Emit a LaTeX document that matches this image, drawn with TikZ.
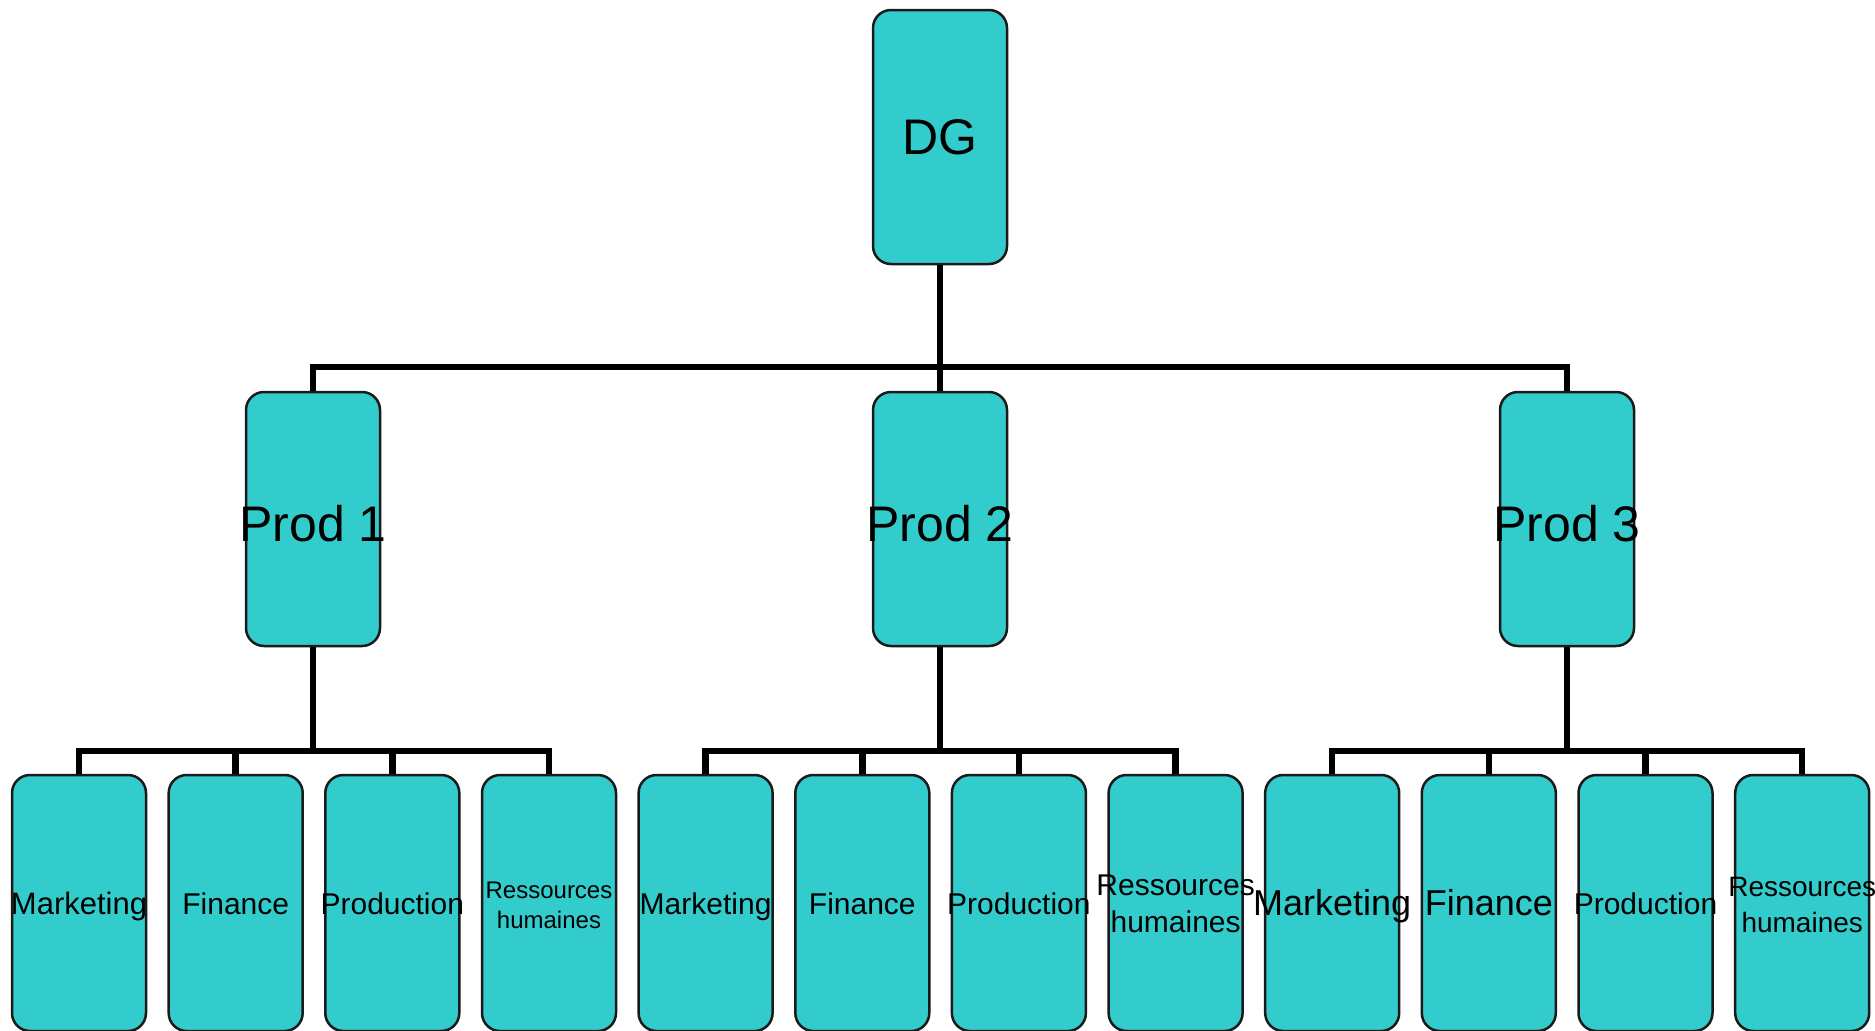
\documentclass[tikz,border=0pt]{standalone}
\usepackage{fontspec}
\setmainfont{Liberation Sans}
\definecolor{boxfill}{HTML}{33CCCC}
\definecolor{boxline}{HTML}{1A1A1A}
\tikzset{
  orgbox/.style={draw=boxline, fill=boxfill, line width=2.5pt, rounded corners=18pt,
    minimum width=134pt, minimum height=254pt, inner sep=0pt, text=black},
  leafbox/.style={orgbox, minimum height=256pt},
  link/.style={draw=black, line width=6.5pt}
}
% font size helper and zero-width labels, so long words may spill over the box edge;
% the optional shift lowers the ink while the box keeps its size
\newcommand{\fs}[2]{\fontsize{#1pt}{#2pt}\selectfont}
\newcommand{\lbl}[2][0pt]{\raisebox{-#1}[\height][\depth]{\makebox[0pt][c]{#2}}}
\newcommand{\leaflbl}[1]{\lbl[4pt]{\strut#1}}
\newcommand{\twolbl}[2]{\raisebox{-4pt}[\height][\depth]{\makebox[0pt][c]{\begin{tabular}{@{}c@{}}#1\\#2\end{tabular}}}}
\begin{document}
\begin{tikzpicture}[x=1pt, y=-1pt]
\useasboundingbox (0,0) rectangle (1875,1031);
\fill[white] (0,0) rectangle (1875,1031);

% top level
\node[orgbox, font=\fs{50}{60}] (dg) at (940,137) {\lbl{DG}};

% product divisions
\node[orgbox, font=\fs{50}{60}] (p1) at (313,519) {\lbl[5pt]{Prod 1}};
\node[orgbox, font=\fs{50}{60}] (p2) at (940,519) {\lbl[5pt]{Prod 2}};
\node[orgbox, font=\fs{50}{60}] (p3) at (1567,519) {\lbl[5pt]{Prod 3}};

% functional departments
\node[leafbox, font=\fs{31}{37}] (m1) at (79.0,903) {\leaflbl{Marketing}};
\node[leafbox, font=\fs{30}{37}] (f1) at (235.7,903) {\leaflbl{Finance}};
\node[leafbox, font=\fs{30}{37}] (r1) at (392.3,903) {\leaflbl{Production}};
\node[leafbox, font=\fs{24}{30}] (h1) at (549.0,903) {\twolbl{Ressources}{humaines}};

\node[leafbox, font=\fs{30}{37}] (m2) at (705.6,903) {\leaflbl{Marketing}};
\node[leafbox, font=\fs{30}{37}] (f2) at (862.3,903) {\leaflbl{Finance}};
\node[leafbox, font=\fs{30}{37}] (r2) at (1018.9,903) {\leaflbl{Production}};
\node[leafbox, font=\fs{30}{37}] (h2) at (1175.6,903) {\twolbl{Ressources}{humaines}};

\node[leafbox, font=\fs{36}{43}] (m3) at (1332.2,903) {\leaflbl{Marketing}};
\node[leafbox, font=\fs{36}{43}] (f3) at (1488.8,903) {\leaflbl{Finance}};
\node[leafbox, font=\fs{30}{37}] (r3) at (1645.5,903) {\leaflbl{Production}};
\node[leafbox, font=\fs{28}{36}] (h3) at (1802.2,903) {\twolbl{Ressources}{humaines}};

% bus levels
\coordinate (bus0) at (0,367);
\coordinate (bus1) at (0,751);

% DG to product divisions
\draw[link] (dg.south) -- (dg.south |- bus0);
\draw[link] (p1.north) |- (p3.north |- bus0) -- (p3.north);
\draw[link] (p2.north) -- (p2.north |- bus0);

% product divisions to departments
\foreach \p/\a/\b/\c/\d in {p1/m1/f1/r1/h1, p2/m2/f2/r2/h2, p3/m3/f3/r3/h3}{
  \draw[link] (\p.south) -- (\p.south |- bus1);
  \draw[link] (\a.north) |- (\d.north |- bus1) -- (\d.north);
  \draw[link] (\b.north) -- (\b.north |- bus1);
  \draw[link] (\c.north) -- (\c.north |- bus1);
}
\end{tikzpicture}
\end{document}
